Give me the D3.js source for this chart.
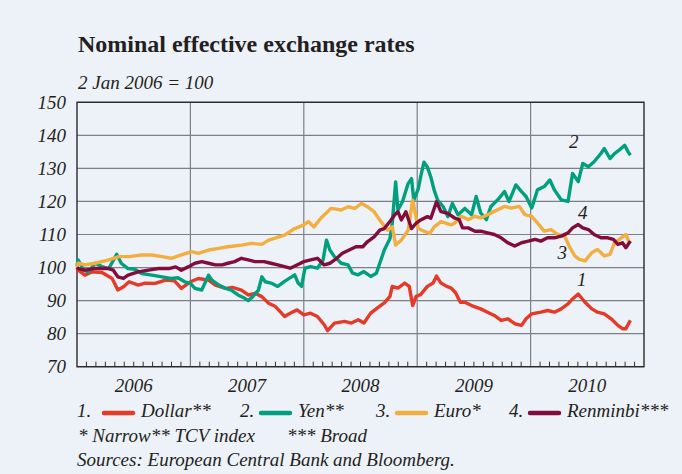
<!DOCTYPE html>
<html>
<head>
<meta charset="utf-8">
<script src="https://cdn.jsdelivr.net/npm/d3@7"></script>
<style>
    html, body { margin: 0; padding: 0; background: #edf1f8; }
    svg { display: block; }
    text { font-family: "Liberation Serif", "DejaVu Serif", serif; fill: #231f20; }
</style>
</head>
<body>
<div id="chart"></div>
<script>
// Values: [decimal year, index (2 Jan 2006 = 100)]
const dollar = [
    [2006.00, 100], [2006.01, 99.2], [2006.07, 97.7], [2006.13, 98.7], [2006.22, 98.5], [2006.31, 96.7],
    [2006.36, 93.2], [2006.41, 94.2], [2006.46, 95.7], [2006.54, 94.7], [2006.60, 95.3], [2006.69, 95.2],
    [2006.78, 96.2], [2006.86, 96.0], [2006.92, 93.7], [2007.00, 95.7], [2007.07, 96.7], [2007.16, 96.2],
    [2007.22, 94.7], [2007.31, 93.7], [2007.37, 94.0], [2007.45, 93.2], [2007.51, 91.7], [2007.57, 92.2],
    [2007.63, 91.2], [2007.69, 89.2], [2007.75, 88.2], [2007.83, 85.2], [2007.88, 86.2], [2007.94, 87.2],
    [2008.00, 85.7], [2008.06, 86.2], [2008.12, 85.2], [2008.18, 82.7], [2008.21, 80.9], [2008.27, 83.2],
    [2008.36, 83.7], [2008.42, 83.2], [2008.48, 84.2], [2008.53, 83.2], [2008.59, 86.2], [2008.65, 87.8],
    [2008.71, 89.3], [2008.76, 91.3], [2008.78, 94.3], [2008.83, 93.8], [2008.89, 95.3], [2008.93, 94.3],
    [2008.96, 88.5], [2008.99, 91.3], [2009.03, 91.8], [2009.09, 94.3], [2009.14, 95.3], [2009.17, 97.4],
    [2009.21, 95.3], [2009.26, 94.3], [2009.30, 93.8], [2009.34, 92.3], [2009.38, 89.5], [2009.42, 89.5],
    [2009.48, 88.5], [2009.56, 87.5], [2009.62, 86.5], [2009.68, 85.5], [2009.74, 84.0], [2009.80, 84.5],
    [2009.86, 83.0], [2009.92, 82.5], [2009.96, 84.5], [2010.01, 86.0], [2010.09, 86.5], [2010.15, 87.0],
    [2010.21, 86.5], [2010.27, 87.5], [2010.33, 89.0], [2010.37, 90.5], [2010.42, 92.0], [2010.48, 89.5],
    [2010.54, 87.5], [2010.59, 86.5], [2010.65, 86.0], [2010.71, 84.5], [2010.77, 82.5], [2010.81, 81.5],
    [2010.84, 81.5], [2010.88, 84.0]
];

const yen = [
    [2006.00, 100.5], [2006.01, 102.3], [2006.06, 99.2], [2006.10, 98.7], [2006.16, 101.3], [2006.22, 100.3],
    [2006.28, 99.7], [2006.35, 104.0], [2006.39, 101.3], [2006.45, 99.7], [2006.51, 99.5], [2006.57, 98.2],
    [2006.66, 97.7], [2006.75, 97.2], [2006.83, 96.7], [2006.89, 96.9], [2006.95, 95.7], [2007.00, 95.2],
    [2007.04, 93.7], [2007.10, 93.2], [2007.16, 97.7], [2007.19, 96.2], [2007.25, 94.7], [2007.31, 93.7],
    [2007.36, 93.2], [2007.42, 91.7], [2007.48, 90.7], [2007.51, 90.0], [2007.55, 91.2], [2007.60, 93.2],
    [2007.63, 97.2], [2007.66, 95.7], [2007.72, 95.2], [2007.77, 94.3], [2007.83, 95.8], [2007.92, 97.8],
    [2007.95, 95.3], [2007.98, 94.3], [2008.01, 99.8], [2008.06, 100.3], [2008.12, 99.8], [2008.17, 102.3],
    [2008.20, 108.3], [2008.23, 105.3], [2008.27, 103.3], [2008.33, 101.3], [2008.39, 100.8], [2008.43, 98.3],
    [2008.48, 97.8], [2008.53, 98.8], [2008.59, 97.3], [2008.64, 98.3], [2008.67, 101.3], [2008.71, 105.3],
    [2008.76, 108.8], [2008.78, 113.4], [2008.81, 125.9], [2008.83, 117.4], [2008.87, 119.9], [2008.92, 125.4],
    [2008.95, 126.9], [2008.97, 120.4], [2009.01, 123.9], [2009.03, 127.4], [2009.06, 131.9], [2009.09, 130.4],
    [2009.12, 127.4], [2009.15, 123.4], [2009.18, 120.4], [2009.23, 118.4], [2009.27, 115.4], [2009.31, 119.4],
    [2009.36, 116.0], [2009.42, 117.9], [2009.48, 116.0], [2009.52, 121.5], [2009.56, 116.5], [2009.61, 114.5],
    [2009.65, 118.5], [2009.71, 120.5], [2009.77, 123.0], [2009.81, 120.0], [2009.87, 125.0], [2009.92, 123.0],
    [2009.96, 121.5], [2010.01, 118.0], [2010.06, 123.5], [2010.12, 124.5], [2010.17, 126.5], [2010.21, 123.5],
    [2010.27, 120.5], [2010.33, 120.0], [2010.37, 128.5], [2010.42, 126.0], [2010.46, 131.5], [2010.51, 130.5],
    [2010.56, 132.0], [2010.62, 134.5], [2010.65, 136.0], [2010.70, 133.0], [2010.74, 134.5], [2010.78, 135.5],
    [2010.83, 137.0], [2010.86, 135.0], [2010.88, 134.0]
];

const euro = [
    [2006.00, 100], [2006.01, 101.3], [2006.07, 100.8], [2006.16, 101.3], [2006.28, 102.3], [2006.37, 103.3],
    [2006.46, 103.3], [2006.57, 103.8], [2006.66, 103.8], [2006.75, 103.3], [2006.83, 102.8], [2006.92, 103.8],
    [2007.01, 104.8], [2007.07, 104.3], [2007.16, 105.3], [2007.25, 105.8], [2007.33, 106.3], [2007.45, 106.8],
    [2007.54, 107.3], [2007.63, 107.0], [2007.69, 108.3], [2007.74, 108.8], [2007.83, 109.8], [2007.92, 111.8],
    [2008.00, 112.9], [2008.04, 113.9], [2008.09, 112.3], [2008.15, 114.9], [2008.24, 117.9], [2008.33, 117.4],
    [2008.39, 118.4], [2008.45, 117.9], [2008.51, 119.4], [2008.56, 118.4], [2008.62, 116.9], [2008.68, 113.9],
    [2008.74, 111.3], [2008.78, 112.3], [2008.81, 106.8], [2008.86, 108.3], [2008.92, 111.3], [2008.96, 120.4],
    [2009.01, 111.8], [2009.06, 111.0], [2009.11, 110.3], [2009.15, 112.3], [2009.21, 113.9], [2009.30, 112.9],
    [2009.33, 113.5], [2009.39, 115.5], [2009.45, 114.5], [2009.51, 115.5], [2009.56, 115.0], [2009.62, 116.0],
    [2009.68, 117.0], [2009.77, 118.5], [2009.83, 118.0], [2009.90, 118.5], [2009.95, 116.0], [2010.01, 115.5],
    [2010.06, 113.5], [2010.12, 111.0], [2010.18, 111.5], [2010.24, 110.0], [2010.30, 109.5], [2010.34, 106.5],
    [2010.39, 103.5], [2010.43, 102.5], [2010.48, 102.0], [2010.54, 104.5], [2010.59, 105.5], [2010.65, 103.5],
    [2010.70, 104.0], [2010.74, 107.5], [2010.80, 109.0], [2010.84, 110.0], [2010.87, 107.5]
];

const renminbi = [
    [2006.00, 100], [2006.01, 99.7], [2006.07, 99.2], [2006.16, 99.7], [2006.28, 99.7], [2006.32, 99.2],
    [2006.36, 97.2], [2006.41, 96.7], [2006.45, 97.7], [2006.54, 98.7], [2006.63, 99.2], [2006.72, 99.7],
    [2006.81, 99.7], [2006.87, 100.2], [2006.92, 99.2], [2006.98, 100.2], [2007.04, 101.3], [2007.10, 101.8],
    [2007.16, 101.3], [2007.22, 100.8], [2007.28, 100.8], [2007.33, 101.3], [2007.39, 101.8], [2007.45, 102.8],
    [2007.51, 102.3], [2007.57, 101.8], [2007.65, 101.8], [2007.71, 101.3], [2007.77, 100.8], [2007.83, 100.3],
    [2007.88, 99.8], [2007.94, 100.8], [2008.00, 101.8], [2008.06, 102.3], [2008.12, 102.8], [2008.18, 100.8],
    [2008.23, 101.3], [2008.29, 102.8], [2008.34, 104.3], [2008.40, 105.3], [2008.46, 106.3], [2008.52, 106.3],
    [2008.56, 107.8], [2008.62, 109.3], [2008.67, 111.3], [2008.71, 111.8], [2008.77, 114.4], [2008.80, 115.9],
    [2008.83, 116.9], [2008.86, 114.4], [2008.90, 116.9], [2008.95, 111.8], [2008.99, 113.4], [2009.03, 114.4],
    [2009.09, 115.4], [2009.12, 114.9], [2009.17, 119.9], [2009.21, 116.9], [2009.27, 116.4], [2009.33, 115.0],
    [2009.37, 114.5], [2009.40, 112.0], [2009.45, 112.0], [2009.51, 111.0], [2009.56, 111.0], [2009.62, 110.5],
    [2009.68, 110.0], [2009.74, 109.0], [2009.80, 107.5], [2009.86, 106.5], [2009.92, 107.5], [2009.98, 108.0],
    [2010.04, 108.5], [2010.09, 108.0], [2010.15, 109.0], [2010.21, 109.0], [2010.27, 109.5], [2010.33, 110.5],
    [2010.37, 112.0], [2010.42, 113.0], [2010.46, 112.0], [2010.51, 111.5], [2010.56, 110.0], [2010.62, 109.0],
    [2010.68, 109.0], [2010.73, 108.5], [2010.77, 107.0], [2010.81, 107.5], [2010.84, 106.0], [2010.88, 108.0]
];

const years = [2006, 2007, 2008, 2009, 2010];
const yTicks = [70, 80, 90, 100, 110, 120, 130, 140, 150];

// series number labels placed beside the lines: [series no., year, value]
const seriesLabels = [["1", 2010.45, 94.5], ["2", 2010.38, 136.3], ["3", 2010.28, 102.7], ["4", 2010.46, 114.6]];

function drawChart() {
    const W = 682, H = 474;
    const margin = { top: 102.3, left: 77, right: 38, bottom: 107.3 };
    const width = W - margin.left - margin.right;
    const height = H - margin.top - margin.bottom;

    const svg = d3.select("#chart")
        .append("svg")
        .attr("width", W)
        .attr("height", H);

    svg.append("rect").attr("width", W).attr("height", H).attr("fill", "#edf1f8");

    // Title and unit
    svg.append("text")
        .attr("x", 78).attr("y", 52)
        .style("font-size", "24px").style("font-weight", "bold")
        .text("Nominal effective exchange rates");
    svg.append("text")
        .attr("x", 78).attr("y", 89)
        .style("font-size", "19px").style("font-style", "italic")
        .text("2 Jan 2006 = 100");

    const g = svg.append("g").attr("transform", `translate(${margin.left},${margin.top})`);

    const x = d3.scaleLinear().domain([2006, 2011]).range([0, width]);
    const y = d3.scaleLinear().domain([70, 150]).range([height, 0]);

    // Horizontal grid lines
    g.append("g")
        .selectAll("line")
        .data(yTicks)
        .enter()
        .append("line")
        .attr("x1", 0).attr("x2", width)
        .attr("y1", d => y(d)).attr("y2", d => y(d))
        .attr("stroke", "#7d7f84").attr("stroke-width", 1.2);

    // Year separators
    g.append("g")
        .selectAll("line")
        .data(years.slice(1))
        .enter()
        .append("line")
        .attr("x1", d => x(d)).attr("x2", d => x(d))
        .attr("y1", 0).attr("y2", height)
        .attr("stroke", "#7d7f84").attr("stroke-width", 1.2);

    // Monthly ticks along the bottom
    const months = d3.range(2006, 2011, 1 / 12).filter((d, i) => i % 12 !== 0);
    g.append("g")
        .selectAll("line")
        .data(months)
        .enter()
        .append("line")
        .attr("x1", d => x(d)).attr("x2", d => x(d))
        .attr("y1", height).attr("y2", height - 5)
        .attr("stroke", "#333").attr("stroke-width", 1);

    // Frame
    g.append("rect")
        .attr("width", width).attr("height", height)
        .attr("fill", "none").attr("stroke", "#2b2b2b").attr("stroke-width", 1.4);

    // Y axis labels
    g.append("g")
        .selectAll("text")
        .data(yTicks)
        .enter()
        .append("text")
        .attr("x", -11).attr("y", d => y(d))
        .attr("dy", "0.33em")
        .attr("text-anchor", "end")
        .style("font-size", "19px").style("font-style", "italic")
        .text(d => d);

    // Year labels
    g.append("g")
        .selectAll("text")
        .data(years)
        .enter()
        .append("text")
        .attr("x", d => x(d + 0.5)).attr("y", height + 25)
        .attr("text-anchor", "middle")
        .style("font-size", "19px").style("font-style", "italic")
        .text(d => d);

    // Lines
    const series = [
        { name: "Dollar", data: dollar, color: "#e63a28" },
        { name: "Yen", data: yen, color: "#00a07e" },
        { name: "Euro", data: euro, color: "#f2ae3f" },
        { name: "Renminbi", data: renminbi, color: "#830d3a" }
    ];

    const line = d3.line().x(d => x(d[0])).y(d => y(d[1]));

    g.selectAll(".series")
        .data(series)
        .enter()
        .append("path")
        .attr("class", "series")
        .attr("d", d => line(d.data))
        .attr("fill", "none")
        .attr("stroke", d => d.color)
        .attr("stroke-width", 3.4)
        .attr("stroke-linejoin", "round");

    g.append("g")
        .selectAll("text")
        .data(seriesLabels)
        .enter()
        .append("text")
        .attr("x", d => x(d[1])).attr("y", d => y(d[2]))
        .attr("text-anchor", "middle")
        .style("font-size", "19px").style("font-style", "italic")
        .text(d => d[0]);

    // Legend
    const legendItems = [
        { num: "1.", label: "Dollar**", color: "#e63a28", x: 77 },
        { num: "2.", label: "Yen**", color: "#00a07e", x: 240 },
        { num: "3.", label: "Euro*", color: "#f2ae3f", x: 376 },
        { num: "4.", label: "Renminbi***", color: "#830d3a", x: 509 }
    ];
    const legend = svg.append("g").attr("transform", "translate(0,417)");
    const item = legend.selectAll("g")
        .data(legendItems)
        .enter()
        .append("g")
        .attr("transform", d => `translate(${d.x},0)`);
    item.append("text")
        .style("font-size", "19px").style("font-style", "italic")
        .text(d => d.num);
    item.append("line")
        .attr("x1", d => d.num === "1." ? 27 : 21).attr("x2", d => d.num === "1." ? 56 : 50)
        .attr("y1", -4).attr("y2", -4)
        .attr("stroke", d => d.color).attr("stroke-width", 4.5)
        .attr("stroke-linecap", "round");
    item.append("text")
        .attr("x", d => d.num === "1." ? 64 : 58)
        .style("font-size", "19px").style("font-style", "italic")
        .text(d => d.label);

    svg.append("text")
        .attr("x", 78).attr("y", 442)
        .style("font-size", "19px").style("font-style", "italic")
        .text("* Narrow** TCV index");
    svg.append("text")
        .attr("x", 287).attr("y", 442)
        .style("font-size", "19px").style("font-style", "italic")
        .text("*** Broad");
    svg.append("text")
        .attr("x", 77).attr("y", 466)
        .style("font-size", "19px").style("font-style", "italic")
        .text("Sources: European Central Bank and Bloomberg.");
}

drawChart();
</script>
</body>
</html>
